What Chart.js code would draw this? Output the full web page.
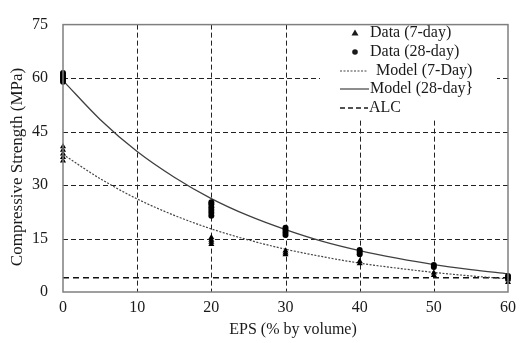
<!DOCTYPE html>
<html>
<head>
<meta charset="utf-8">
<script src="https://cdn.jsdelivr.net/npm/chart.js@4.4.1/dist/chart.umd.min.js"></script>
<style>
  html, body { margin: 0; padding: 0; background: #fff; }
  #wrap { width: 522px; height: 343px; }
</style>
</head>
<body>
<div id="wrap"><canvas id="chart" width="522" height="343"></canvas></div>
<script>
const day7Eps = [0, 0, 0, 0, 0, 20, 20, 20, 20, 30, 30, 30, 40, 40, 50, 50, 60, 60];
const day7Strength = [36.8, 37.8, 38.8, 39.8, 40.8, 13.4, 14.0, 14.6, 15.3, 10.5, 11.0, 11.6, 8.0, 8.6, 4.7, 5.4, 2.7, 3.5];
const day28Eps = [0, 0, 0, 0, 0, 20, 20, 20, 20, 20, 20, 30, 30, 30, 30, 40, 40, 40, 50, 50, 60, 60];
const day28Strength = [59.0, 59.6, 60.2, 60.8, 61.4, 21.4, 22.2, 23.0, 23.8, 24.6, 25.2, 16.0, 16.7, 17.4, 18.0, 10.6, 11.2, 11.8, 7.0, 7.6, 3.8, 4.5];

// Model curves
const modelEps = [0, 5, 10, 15, 20, 25, 30, 35, 40, 45, 50, 55, 60];
const model7 = [38.6, 31.8, 26.1, 21.5, 17.7, 14.6, 12.0, 9.9, 8.1, 6.7, 5.5, 4.5, 3.7];
const model28 = [59.3, 48.4, 39.4, 32.2, 26.2, 21.4, 17.5, 14.2, 11.6, 9.5, 7.7, 6.3, 5.1];

// ALC reference level
const alcEps = [0, 60];
const alcStrength = [4, 4];

const xTicks = [0, 10, 20, 30, 40, 50, 60];
const yTicks = [0, 15, 30, 45, 60, 75];

const legendLabels = ["Data (7-day)", "Data (28-day)", "Model (7-Day)", "Model (28-day}", "ALC"];

const serif = "'Liberation Serif', 'Times New Roman', serif";
const ink = "#1a1a1a";

function pts(xs, ys) {
    return xs.map((x, i) => ({ x: x, y: ys[i] }));
}

// Dashed grid, legend box, frame and axis titles
const decorPlugin = {
    id: "decor",
    beforeDatasetsDraw(chart) {
        const ctx = chart.ctx;
        const a = chart.chartArea;
        const sx = chart.scales.x;
        const sy = chart.scales.y;
        ctx.save();
        // grid lines
        ctx.strokeStyle = "#222";
        ctx.lineWidth = 1;
        ctx.setLineDash([5, 3]);
        xTicks.slice(1, -1).forEach(v => {
            const px = Math.round(sx.getPixelForValue(v)) + 0.5;
            ctx.beginPath(); ctx.moveTo(px, a.top); ctx.lineTo(px, a.bottom); ctx.stroke();
        });
        yTicks.slice(1, -1).forEach(v => {
            const py = Math.round(sy.getPixelForValue(v)) + 0.5;
            ctx.beginPath(); ctx.moveTo(a.left, py); ctx.lineTo(a.right, py); ctx.stroke();
        });
        ctx.setLineDash([]);
        // legend box
        ctx.fillStyle = "#fff";
        ctx.fillRect(320, 21, 177, 97);
        ctx.fillStyle = ink;
        ctx.strokeStyle = ink;
        ctx.font = "16px " + serif;
        ctx.textBaseline = "middle";
        const rows = [33, 52, 71, 89, 108];
        // triangle
        ctx.beginPath();
        ctx.moveTo(355, rows[0] - 3.5);
        ctx.lineTo(358.5, rows[0] + 2.5);
        ctx.lineTo(351.5, rows[0] + 2.5);
        ctx.closePath();
        ctx.fill();
        // circle
        ctx.beginPath();
        ctx.arc(355, rows[1], 2.8, 0, Math.PI * 2);
        ctx.fill();
        // dotted
        ctx.lineWidth = 1.2;
        ctx.setLineDash([2, 1.5]);
        ctx.strokeStyle = "#444";
        ctx.beginPath(); ctx.moveTo(340, rows[2]); ctx.lineTo(367, rows[2]); ctx.stroke();
        // solid
        ctx.setLineDash([]);
        ctx.strokeStyle = "#404040";
        ctx.beginPath(); ctx.moveTo(340, rows[3]); ctx.lineTo(369, rows[3]); ctx.stroke();
        // dashed
        ctx.setLineDash([5, 3]);
        ctx.lineWidth = 1.6;
        ctx.strokeStyle = ink;
        ctx.beginPath(); ctx.moveTo(340, rows[4]); ctx.lineTo(368, rows[4]); ctx.stroke();
        ctx.setLineDash([]);
        const textX = [370, 370, 376, 370, 369];
        legendLabels.forEach((t, i) => ctx.fillText(t, textX[i], rows[i]));
        ctx.restore();
    },
    afterDraw(chart) {
        const ctx = chart.ctx;
        const a = chart.chartArea;
        ctx.save();
        ctx.strokeStyle = "#7f7f7f";
        ctx.lineWidth = 1.5;
        ctx.strokeRect(a.left, a.top, a.right - a.left, a.bottom - a.top);
        ctx.fillStyle = ink;
        ctx.font = "16px " + serif;
        ctx.textAlign = "center";
        ctx.textBaseline = "middle";
        ctx.fillText("EPS (% by volume)", 293, 330);
        ctx.translate(18, 167);
        ctx.rotate(-Math.PI / 2);
        ctx.font = "17px " + serif;
        ctx.fillText("Compressive Strength (MPa)", 0, 0);
        ctx.restore();
    }
};

new Chart(document.getElementById("chart").getContext("2d"), {
    type: "scatter",
    data: {
        datasets: [
            {
                label: legendLabels[0],
                data: pts(day7Eps, day7Strength),
                pointStyle: "triangle",
                radius: 3.5,
                backgroundColor: "#000",
                borderColor: "#000",
                borderWidth: 0,
                clip: false
            },
            {
                label: legendLabels[1],
                data: pts(day28Eps, day28Strength),
                pointStyle: "circle",
                radius: 3,
                backgroundColor: "#000",
                borderColor: "#000",
                borderWidth: 0,
                clip: false
            },
            {
                label: legendLabels[2],
                type: "line",
                data: pts(modelEps, model7),
                borderColor: "#444",
                borderWidth: 1.2,
                borderDash: [2, 1.5],
                cubicInterpolationMode: "monotone",
                pointRadius: 0,
                fill: false
            },
            {
                label: legendLabels[3],
                type: "line",
                data: pts(modelEps, model28),
                borderColor: "#404040",
                borderWidth: 1.3,
                cubicInterpolationMode: "monotone",
                pointRadius: 0,
                fill: false
            },
            {
                label: legendLabels[4],
                type: "line",
                data: pts(alcEps, alcStrength),
                borderColor: "#111",
                borderWidth: 1.6,
                borderDash: [6, 4],
                pointRadius: 0,
                fill: false
            }
        ]
    },
    options: {
        responsive: false,
        animation: false,
        layout: { padding: { left: 0, top: 14, right: 9, bottom: 0 } },
        plugins: {
            legend: { display: false },
            tooltip: { enabled: false }
        },
        scales: {
            x: {
                type: "linear",
                min: 0,
                max: 60,
                afterBuildTicks: s => { s.ticks = xTicks.map(v => ({ value: v })); },
                afterFit: s => { s.height = 51; },
                border: { display: false },
                grid: { display: false, drawTicks: false },
                ticks: {
                    padding: 6,
                    color: ink,
                    font: { family: serif, size: 16 },
                    maxRotation: 0
                }
            },
            y: {
                type: "linear",
                min: 0,
                max: 75,
                afterBuildTicks: s => { s.ticks = yTicks.map(v => ({ value: v })); },
                afterFit: s => { s.width = 63; },
                border: { display: false },
                grid: { display: false, drawTicks: false },
                ticks: {
                    padding: 15,
                    color: ink,
                    font: { family: serif, size: 16 }
                }
            }
        }
    },
    plugins: [decorPlugin]
});
</script>
</body>
</html>
